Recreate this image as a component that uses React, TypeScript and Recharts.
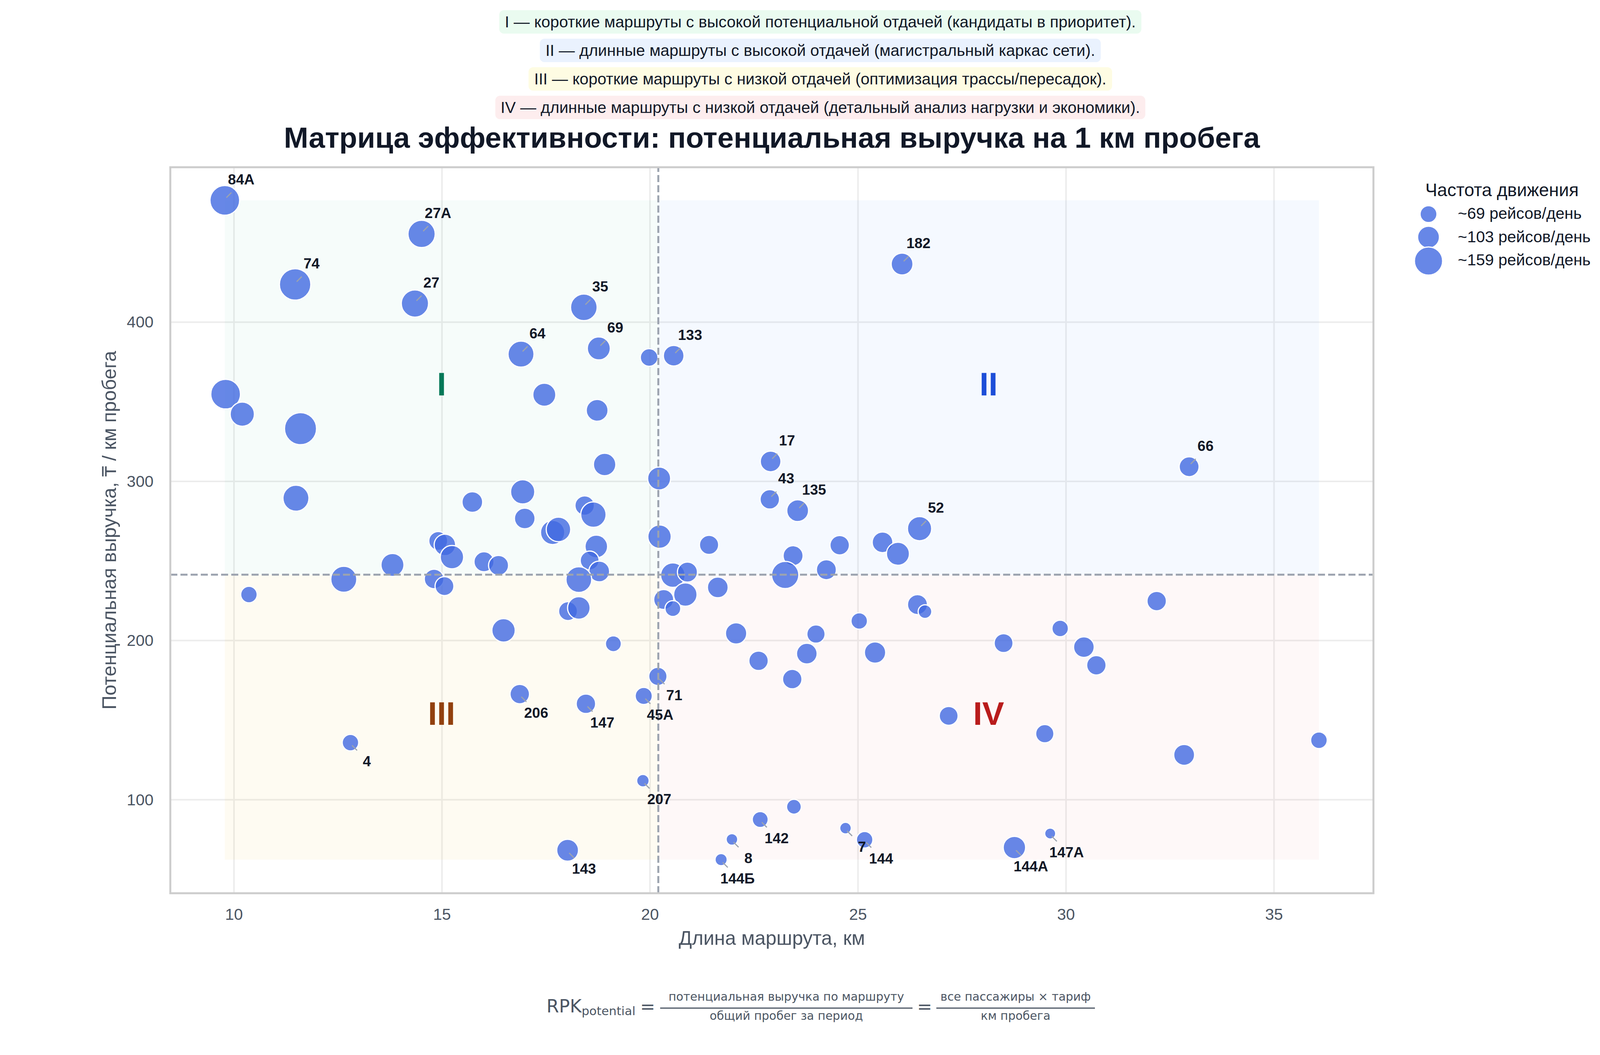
import React from "react";
import {
  CartesianGrid,
  ReferenceArea,
  ReferenceLine,
  Scatter,
  ScatterChart,
  XAxis,
  YAxis,
  ZAxis,
} from "recharts";

// routes, "" = no label on the chart
const ROUTES = [
  "84А", "27А", "74", "27", "35", "64", "69", "133", "182", "17", "43", "135", "52", "66",
  "206", "147", "71", "45А", "4", "207", "143", "142", "8", "144Б", "7", "144", "144А", "147А",
  "", "", "", "", "", "", "", "", "", "", "", "", "", "", "", "", "", "", "", "", "", "", "", "",
  "", "", "", "", "", "", "", "", "", "", "", "", "", "", "", "", "", "", "", "", "", "", "", "",
  "", "", "", "", "", "", "", "", "", "", "", "", "", "", "", "", "", "", "",
];
const LENGTH_KM = [
  9.78, 14.51, 11.47, 14.35, 18.41, 16.9, 18.77, 20.57, 26.06, 22.9, 22.88, 23.55, 26.48, 32.96,
  16.87, 18.46, 20.19, 19.85, 12.8, 19.83, 18.02, 22.65, 21.97, 21.71, 24.7, 25.16, 28.76, 29.62,
  19.98, 9.8, 10.2, 11.6, 17.46, 18.73, 18.91, 20.22, 11.49, 15.73, 16.94, 16.99, 18.43, 18.64,
  17.66, 17.8, 18.71, 18.55, 18.78, 18.29, 20.23, 21.42, 14.91, 15.07, 15.24, 16.01, 16.36, 13.81,
  14.81, 15.06, 20.55, 20.9, 20.85, 20.33, 20.55, 21.63, 18.03, 18.29, 16.48, 19.12, 12.64, 10.36,
  24.56, 25.59, 25.96, 23.44, 24.24, 23.25, 26.43, 26.61, 32.18, 25.03, 22.07, 23.99, 22.61, 23.77,
  25.41, 23.42, 28.5, 29.86, 30.43, 30.73, 27.18, 29.49, 23.46, 32.84, 36.08,
];
const RPK = [
  476.5, 455.4, 423.7, 411.7, 409.3, 379.9, 383.5, 378.9, 436.5, 312.5, 288.7, 281.6, 270.3, 309.2,
  166.4, 160.3, 177.5, 165.2, 135.9, 112.0, 68.3, 87.6, 75.1, 62.4, 82.2, 74.9, 70.0, 78.8,
  377.8, 354.8, 342.2, 333.1, 354.4, 344.6, 310.6, 301.8, 289.4, 287.0, 293.4, 276.7, 284.8, 279.1,
  267.9, 269.8, 259.1, 250.3, 243.4, 238.3, 265.3, 260.1, 262.6, 260.1, 252.4, 249.5, 247.2, 247.5,
  238.7, 234.2, 241.1, 243.0, 228.9, 225.8, 220.1, 233.4, 218.5, 220.5, 206.4, 198.0, 238.5, 228.9,
  259.9, 261.7, 254.5, 253.3, 244.5, 241.2, 222.6, 218.2, 224.8, 212.3, 204.5, 204.1, 187.3, 191.8,
  192.5, 175.8, 198.4, 207.6, 195.9, 184.5, 152.7, 141.5, 95.6, 128.2, 137.4,
];
// trips per day (bubble size)
const TRIPS = [
  209, 178, 233, 178, 170, 163, 130, 107, 118, 107, 96, 118, 143, 100,
  96, 96, 86, 77, 72, 46, 118, 68, 41, 44, 41, 72, 124, 38,
  81, 209, 143, 242, 130, 118, 124, 130, 163, 107, 143, 107, 96, 156,
  143, 146, 126, 91, 108, 160, 134, 94, 91, 115, 134, 101, 101, 130,
  97, 91, 146, 101, 134, 101, 67, 108, 91, 126, 134, 68, 163, 72,
  96, 107, 130, 101, 101, 178, 101, 53, 96, 72, 113, 86, 96, 107,
  113, 96, 91, 72, 107, 96, 91, 86, 60, 109, 73,
];
const LABELS_ABOVE = ["84А", "27А", "74", "27", "35", "64", "69", "133", "182", "17", "43", "135", "52", "66"];

const X_TICKS = [10, 15, 20, 25, 30, 35];
const Y_TICKS = [100, 200, 300, 400];
const LEGEND_TRIPS = [69, 103, 159];
const MEDIAN_KM = 20.2;
const MEDIAN_RPK = 241.4;

const NOTES = [
  "I — короткие маршруты с высокой потенциальной отдачей (кандидаты в приоритет).",
  "II — длинные маршруты с высокой отдачей (магистральный каркас сети).",
  "III — короткие маршруты с низкой отдачей (оптимизация трассы/пересадок).",
  "IV — длинные маршруты с низкой отдачей (детальный анализ нагрузки и экономики).",
];
const NOTE_BG = ["#EAFBF0", "#EAF2FE", "#FEFCE3", "#FDEDEE"];

const W = 4200;
const H = 2700;
const PLOT = { left: 436, top: 428, right: 3516, bottom: 2286 };
const Z_DOMAIN = [40, 200];
const Z_RANGE = [619.5, 5279];
const FONT = "'Liberation Sans', Arial, sans-serif";
const DOT = "#4169E1";
const INK = "#111827";
const MUTED = "#4B5563";

const points = ROUTES.map((route, i) => ({
  route,
  km: LENGTH_KM[i],
  rpk: RPK[i],
  trips: TRIPS[i],
}));
const labeled = points.filter((p) => p.route !== "");

const xMin = Math.min(...LENGTH_KM);
const xMax = Math.max(...LENGTH_KM);
const yMin = Math.min(...RPK);
const yMax = Math.max(...RPK);

// same linear area mapping as the ZAxis
function tripsRadius(t: number) {
  const area = Z_RANGE[0] + ((t - Z_DOMAIN[0]) / (Z_DOMAIN[1] - Z_DOMAIN[0])) * (Z_RANGE[1] - Z_RANGE[0]);
  return Math.sqrt(area / Math.PI);
}

function XTick({ x, y, payload }: any) {
  return (
    <text x={x} y={y + 54} textAnchor="middle" dominantBaseline="central" fontSize={41} fill={MUTED} fontFamily={FONT}>
      {payload.value}
    </text>
  );
}

function YTick({ x, y, payload }: any) {
  return (
    <text x={x - 43} y={y} textAnchor="end" dominantBaseline="central" fontSize={41} fill={MUTED} fontFamily={FONT}>
      {payload.value}
    </text>
  );
}

function RouteLabel({ cx, cy, payload }: any) {
  const up = LABELS_ABOVE.includes(payload.route);
  const s = up ? -1 : 1;
  return (
    <g>
      <line
        x1={cx + 4}
        y1={cy + s * 7}
        x2={cx + 17}
        y2={cy + s * 20}
        stroke="#9CA3AF"
        strokeWidth={3}
      />
      <text
        x={cx + 42}
        y={cy + (up ? -53 : 48)}
        textAnchor="middle"
        dominantBaseline="central"
        fontSize={37}
        fontWeight={700}
        fill={INK}
        fontFamily={FONT}
      >
        {payload.route}
      </text>
    </g>
  );
}

const quadLabel = (value: string, fill: string) => ({
  value,
  position: "center" as const,
  fill,
  fontSize: 84,
  fontWeight: 700,
  fontFamily: FONT,
  dy: -10,
});

function Overlay() {
  const cx = (PLOT.left + PLOT.right) / 2;
  const cy = (PLOT.top + PLOT.bottom) / 2;
  return (
    <svg width={W} height={H} style={{ position: "absolute", left: 0, top: 0, pointerEvents: "none" }}>
      <rect
        x={PLOT.left}
        y={PLOT.top}
        width={PLOT.right - PLOT.left}
        height={PLOT.bottom - PLOT.top}
        fill="none"
        stroke="#CCCCCC"
        strokeWidth={5}
      />
      <text x={cx} y={378} textAnchor="middle" fontSize={75} fontWeight={700} fill={INK} fontFamily={FONT}>
        Матрица эффективности: потенциальная выручка на 1 км пробега
      </text>
      <text x={cx} y={2418} textAnchor="middle" fontSize={50} fill={MUTED} fontFamily={FONT}>
        Длина маршрута, км
      </text>
      <text
        x={280}
        y={cy}
        textAnchor="middle"
        dominantBaseline="central"
        fontSize={50}
        fill={MUTED}
        fontFamily={FONT}
        transform={`rotate(-90 280 ${cy})`}
      >
        Потенциальная выручка, ₸ / км пробега
      </text>

      {/* legend */}
      <text x={3845} y={486} textAnchor="middle" dominantBaseline="central" fontSize={46} fill={INK} fontFamily={FONT}>
        Частота движения
      </text>
      {LEGEND_TRIPS.map((t, i) => (
        <g key={t}>
          <circle cx={3657} cy={[548, 607, 668][i]} r={tripsRadius(t)} fill={DOT} fillOpacity={0.8} stroke="#fff" strokeWidth={3} />
          <text x={3732} y={[546, 606, 665][i]} dominantBaseline="central" fontSize={41} fill={INK} fontFamily={FONT}>
            {`~${t} рейсов/день`}
          </text>
        </g>
      ))}

      {/* formula */}
      <g fontFamily="'DejaVu Sans', sans-serif" fill={MUTED}>
        <text x={1399} y={2591} fontSize={46}>
          RPK
          <tspan fontSize={31} dy={7}>potential</tspan>
        </text>
        <text x={1658} y={2592} textAnchor="middle" fontSize={46}>=</text>
        <text x={2013} y={2561} textAnchor="middle" fontSize={30}>потенциальная выручка по маршруту</text>
        <line x1={1690} x2={2336} y1={2580} y2={2580} stroke={MUTED} strokeWidth={3} />
        <text x={2013} y={2610} textAnchor="middle" fontSize={30}>общий пробег за период</text>
        <text x={2367} y={2592} textAnchor="middle" fontSize={46}>=</text>
        <text x={2600} y={2561} textAnchor="middle" fontSize={30}>все пассажиры × тариф</text>
        <line x1={2397} x2={2803} y1={2580} y2={2580} stroke={MUTED} strokeWidth={3} />
        <text x={2600} y={2610} textAnchor="middle" fontSize={30}>км пробега</text>
      </g>
    </svg>
  );
}

export default function App() {
  return (
    <div style={{ position: "absolute", left: 0, top: 0, width: W, height: H, background: "#fff", fontFamily: FONT }}>
      {NOTES.map((note, i) => (
        <div
          key={note}
          style={{ position: "absolute", left: 0, width: W, top: 26 + i * 73, textAlign: "center" }}
        >
          <span
            style={{
              display: "inline-block",
              height: 60,
              lineHeight: "60px",
              padding: "0 14px",
              borderRadius: 12,
              background: NOTE_BG[i],
              fontSize: 41,
              color: INK,
            }}
          >
            {note}
          </span>
        </div>
      ))}

      <div style={{ position: "absolute", left: 0, top: 0 }}>
        <ScatterChart
          width={W}
          height={H}
          margin={{ top: PLOT.top, right: W - PLOT.right, bottom: H - PLOT.bottom - 80, left: PLOT.left - 100 }}
        >
          <CartesianGrid stroke="#ECECEC" strokeWidth={4} />
          <XAxis
            type="number"
            dataKey="km"
            domain={[8.47, 37.39]}
            ticks={X_TICKS}
            allowDataOverflow
            height={80}
            tickSize={0}
            tickMargin={0}
            axisLine={false}
            tickLine={false}
            tick={<XTick />}
          />
          <YAxis
            type="number"
            dataKey="rpk"
            domain={[41.3, 497.3]}
            ticks={Y_TICKS}
            allowDataOverflow
            width={100}
            tickSize={0}
            tickMargin={0}
            axisLine={false}
            tickLine={false}
            tick={<YTick />}
          />
          <ZAxis type="number" dataKey="trips" domain={Z_DOMAIN} range={Z_RANGE} />

          <ReferenceArea x1={xMin} x2={MEDIAN_KM} y1={MEDIAN_RPK} y2={yMax} fill="#10B981" fillOpacity={0.04} stroke="none" label={quadLabel("I", "#047857")} />
          <ReferenceArea x1={MEDIAN_KM} x2={xMax} y1={MEDIAN_RPK} y2={yMax} fill="#3B82F6" fillOpacity={0.05} stroke="none" label={quadLabel("II", "#1D4ED8")} />
          <ReferenceArea x1={xMin} x2={MEDIAN_KM} y1={yMin} y2={MEDIAN_RPK} fill="#EAB308" fillOpacity={0.05} stroke="none" label={quadLabel("III", "#92400E")} />
          <ReferenceArea x1={MEDIAN_KM} x2={xMax} y1={yMin} y2={MEDIAN_RPK} fill="#EF4444" fillOpacity={0.04} stroke="none" label={quadLabel("IV", "#B91C1C")} />

          <Scatter
            data={points}
            fill={DOT}
            fillOpacity={0.8}
            stroke="#fff"
            strokeWidth={3}
            isAnimationActive={false}
          />
          <ReferenceLine x={MEDIAN_KM} stroke="#9CA3AF" strokeWidth={5} strokeDasharray="18 8" zIndex={700} />
          <ReferenceLine y={MEDIAN_RPK} stroke="#9CA3AF" strokeWidth={5} strokeDasharray="18 8" zIndex={700} />
          <Scatter data={labeled} shape={<RouteLabel />} isAnimationActive={false} zIndex={800} />
        </ScatterChart>
      </div>
      <Overlay />
    </div>
  );
}
